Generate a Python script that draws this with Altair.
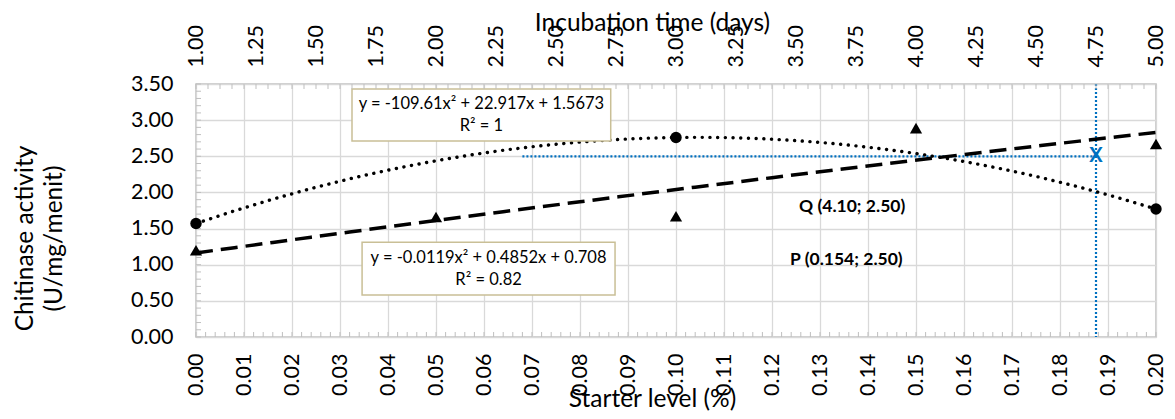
import altair as alt
import pandas as pd

# Starter level series (bottom axis, circles)
starter_level = [0.00, 0.10, 0.20]
activity_by_starter = [1.57, 2.76, 1.77]

# Incubation time series (top axis, triangles)
incubation_days = [1, 2, 3, 4, 5]
activity_by_days = [1.20, 1.66, 1.67, 2.89, 2.67]

# Axis tick labels
starter_ticks = [round(i * 0.01, 2) for i in range(21)]
day_ticks = [1 + i * 0.25 for i in range(17)]
activity_ticks = [0, 0.5, 1.0, 1.5, 2.0, 2.5, 3.0, 3.5]

# minor ticks (Excel style, drawn inside the plot)
starter_minor = [round(i * 0.002, 3) for i in range(101)]
day_minor = [round(1 + i * 0.05, 2) for i in range(81)]
activity_minor = [round(i * 0.1, 1) for i in range(36)]

# guide lines
guide_level = 2.50
guide_start = 0.068
guide_cross = 0.1875

point_labels = ["Q (4.10; 2.50)", "P (0.154; 2.50)"]
point_label_x = [0.1367, 0.1355]
point_label_y = [1.80, 1.07]

eq_line1 = ["y = -109.61x² + 22.917x + 1.5673", "y = -0.0119x² + 0.4852x + 0.708"]
eq_line2 = ["R² = 1", "R² = 0.82"]
eq_x0 = [0.0325, 0.0346]
eq_x1 = [0.0864, 0.0873]
eq_y0 = [3.43, 1.31]
eq_y1 = [2.71, 0.58]

W, H = 960, 253
FONT = "Lato"
BLUE = "#0070c0"

starter_df = pd.DataFrame({"starter": starter_level, "activity": activity_by_starter})
days_df = pd.DataFrame({"day": incubation_days, "activity": activity_by_days})
labels_df = pd.DataFrame({"starter": point_label_x, "activity": point_label_y, "label": point_labels})
eq_df = pd.DataFrame({
    "x0": eq_x0, "x1": eq_x1, "y0": eq_y0, "y1": eq_y1,
    "l1": eq_line1, "l2": eq_line2,
})
eq_df["xm"] = (eq_df["x0"] + eq_df["x1"]) / 2
eq_df["ym"] = (eq_df["y0"] + eq_df["y1"]) / 2

bottom_axis = alt.Axis(
    values=starter_ticks, format=".2f", labelAngle=270, labelPadding=16,
    ticks=False, domain=False, grid=True, gridColor="#d9d9d9", gridWidth=1.3,
    title="Starter level (%)", titleX=456, titleY=69, titleBaseline="alphabetic",
    titleAlign="center", orient="bottom",
)
top_axis = alt.Axis(
    values=day_ticks, format=".2f", labelAngle=270, labelPadding=17,
    ticks=False, domain=False, grid=False,
    title="Incubation time (days)", titleX=456, titleY=-54, titleBaseline="alphabetic",
    titleAlign="center", orient="top",
)
left_axis = alt.Axis(
    values=activity_ticks, format=".2f", labelPadding=23, ticks=False, domain=False,
    grid=True, gridColor="#d9d9d9", gridWidth=1.3,
    title=["Chitinase activity", "(U/mg/menit)"], titleAngle=270, titleX=-171, titleY=154,
    titleBaseline="middle", titleAlign="center", titleLineHeight=29,
)

xs_scale = alt.Scale(domain=[0, 0.2], nice=False, zero=False)
xd_scale = alt.Scale(domain=[1, 5], nice=False, zero=False)
y_scale = alt.Scale(domain=[0, 3.5], nice=False)


def xs(field):
    return alt.X(field, type="quantitative", scale=xs_scale, axis=bottom_axis)


def xd(field):
    return alt.X(field, type="quantitative", scale=xd_scale, axis=top_axis)


def ya(field):
    return alt.Y(field, type="quantitative", scale=y_scale, axis=left_axis)


base_s = alt.Chart(starter_df)

# minor ticks
bottom_minor = alt.Chart(pd.DataFrame({"m": starter_minor})).mark_rule(
    color="#bfbfbf", strokeWidth=1
).encode(x=xs("m"), y=alt.value(H), y2=alt.value(H - 5))

left_minor = alt.Chart(pd.DataFrame({"m": activity_minor})).mark_rule(
    color="#bfbfbf", strokeWidth=1
).encode(y=ya("m"), x=alt.value(0), x2=alt.value(5))

top_minor = alt.Chart(pd.DataFrame({"m": day_minor})).mark_rule(
    color="#bfbfbf", strokeWidth=1
).encode(x=xd("m"), y=alt.value(0), y2=alt.value(5))

# starter fit (dotted) and points
starter_fit = base_s.transform_regression(
    "starter", "activity", method="poly", order=2
).mark_line(color="black", strokeWidth=3.4, strokeDash=[0.1, 7.6], strokeCap="round").encode(
    x=xs("starter"), y=ya("activity")
)
starter_pts = base_s.mark_point(shape="circle", filled=True, size=130, color="black", opacity=1).encode(
    x=xs("starter"), y=ya("activity")
)

# guide lines
guide_df = pd.DataFrame({"x0": [guide_start], "x1": [guide_cross], "lvl": [guide_level]})
guide_h = alt.Chart(guide_df).mark_rule(color=BLUE, strokeWidth=2.2, strokeDash=[2, 2]).encode(
    x=xs("x0"), x2="x1", y=ya("lvl")
)
guide_v = alt.Chart(guide_df).mark_rule(color=BLUE, strokeWidth=2.2, strokeDash=[2, 2]).encode(
    x=xs("x1"), y=alt.value(0), y2=alt.value(H)
)
cross = alt.Chart(guide_df).mark_text(
    text="X", font=FONT, fontSize=20, fontWeight="bold", color=BLUE, baseline="middle"
).encode(x=xs("x1"), y=ya("lvl"))

point_text = alt.Chart(labels_df).mark_text(
    font=FONT, fontSize=17.5, fontWeight="bold", color="black", baseline="middle"
).encode(x=xs("starter"), y=ya("activity"), text="label:N")

# equation boxes
eq_box = alt.Chart(eq_df).mark_rect(fill="white", stroke="#c9bf96", strokeWidth=1.5).encode(
    x=xs("x0"), x2="x1", y=ya("y0"), y2="y1"
)
eq_t1 = alt.Chart(eq_df).mark_text(
    font=FONT, fontSize=16.5, color="black", baseline="middle", dy=-11
).encode(x=xs("xm"), y=ya("ym"), text="l1:N")
eq_t2 = alt.Chart(eq_df).mark_text(
    font=FONT, fontSize=16.5, color="black", baseline="middle", dy=11
).encode(x=xs("xm"), y=ya("ym"), text="l2:N")

bottom_group = alt.layer(
    bottom_minor, left_minor, guide_v, guide_h, starter_fit, starter_pts,
    eq_box, eq_t1, eq_t2, point_text, cross,
)

# incubation time fit (dashed) and points
base_d = alt.Chart(days_df)
days_fit = base_d.transform_regression(
    "day", "activity", method="poly", order=2
).mark_line(color="black", strokeWidth=3.5, strokeDash=[17, 8]).encode(
    x=xd("day"), y=ya("activity")
)
days_pts = base_d.mark_point(shape="triangle-up", filled=True, size=150, color="black", opacity=1).encode(
    x=xd("day"), y=ya("activity")
)
top_group = alt.layer(top_minor, days_fit, days_pts)

chart = alt.layer(bottom_group, top_group).resolve_scale(x="independent").properties(
    width=W, height=H,
    autosize=alt.AutoSizeParams(type="none"),
    padding={"left": 188, "top": 76, "right": 11, "bottom": 74},
).configure_view(
    stroke="#bfbfbf", strokeWidth=1.5
).configure_axis(
    labelFont=FONT, labelFontSize=21.5, labelColor="black",
    titleFont=FONT, titleFontSize=24.5, titleColor="black", titleFontWeight="normal",
)

chart.save("out.html", embed_options={"renderer": "svg", "actions": False})
